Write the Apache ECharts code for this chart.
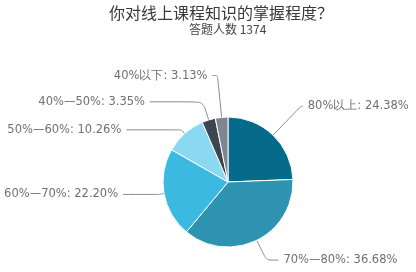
<!DOCTYPE html>
<html><head><meta charset="utf-8">
<script src="https://cdn.jsdelivr.net/npm/echarts@6/dist/echarts.min.js"></script>
<style>html,body{margin:0;padding:0;background:#fff}#c{width:416px;height:272px}</style>
</head><body><div id="c"></div>
<script>
const titleText = '你对线上课程知识的掌握程度？';
const subText = '答题人数 1374';
const categories = ['80%以上', '70%—80%', '60%—70%', '50%—60%', '40%—50%', '40%以下'];
const values = [24.38, 36.68, 22.20, 10.26, 3.35, 3.13];
const colors = ['#066b8a', '#2e93b1', '#3bb9e1', '#8bd8f2', '#3b4651', '#7f8691'];
// label connector lengths (style only)
const lineLen1 = [40, 22, 5, 5, 19, 42];
const lineLen2 = [2, 12, 36, 55, 53, 5];

const chart = echarts.init(document.getElementById('c'));
chart.setOption({
  animation: false,
  title: [{
    text: titleText, left: 104, top: 0,
    textStyle: {fontSize: 16, fontWeight: 'normal', color: '#3a3a3a', fontFamily: 'Noto Sans CJK SC'}
  }, {
    text: subText, left: 184, top: 18,
    textStyle: {fontSize: 12, fontWeight: 'normal', color: '#444', fontFamily: 'Noto Sans CJK SC'}
  }],
  series: [{
    type: 'pie',
    center: [228, 182],
    radius: [0, 65],
    startAngle: 90,
    clockwise: true,
    avoidLabelOverlap: false,
    data: categories.map((n, i) => ({
      name: n, value: values[i], itemStyle: {color: colors[i]},
      labelLine: {length: lineLen1[i], length2: lineLen2[i]}
    })),
    itemStyle: {borderColor: '#fff', borderWidth: 1},
    label: {
      formatter: p => p.name + ': ' + p.value.toFixed(2) + '%',
      fontSize: 11.5, color: '#707070', fontFamily: 'DejaVu Sans', overflow: 'none'
    },
    labelLine: {smooth: 0.2, lineStyle: {color: '#888', width: 1}}
  }]
});
</script></body></html>
